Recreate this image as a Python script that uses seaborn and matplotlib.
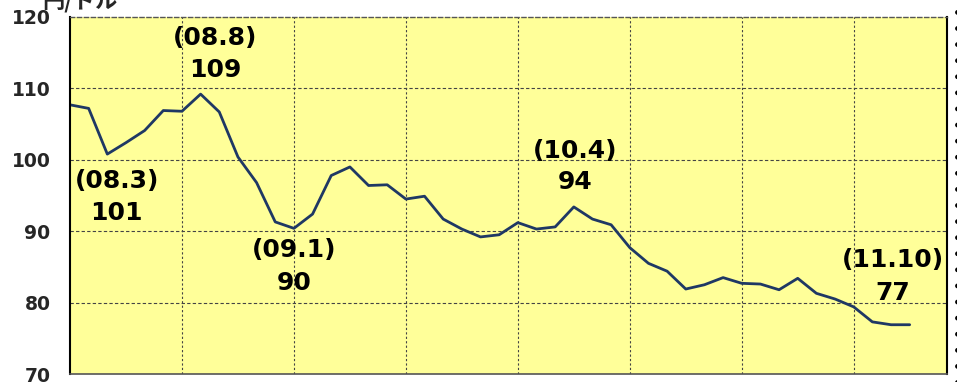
import matplotlib
matplotlib.use("Agg")
import matplotlib.pyplot as plt
import seaborn as sns
import pandas as pd
from matplotlib.lines import Line2D

# Monthly yen/dollar rate, 2008.1 - 2011.10
months = [f"{y:02d}.{m}" for y in range(8, 12) for m in range(1, 13)][:46]
rates = [107.7, 107.2, 100.8, 102.4, 104.1, 106.9, 106.8, 109.2, 106.7, 100.4,
         96.8, 91.3, 90.4, 92.4, 97.8, 99.0, 96.4, 96.5, 94.5, 94.9,
         91.7, 90.3, 89.2, 89.5, 91.2, 90.3, 90.6, 93.4, 91.7, 90.9,
         87.7, 85.5, 84.4, 81.9, 82.5, 83.5, 82.7, 82.6, 81.8, 83.4,
         81.3, 80.5, 79.4, 77.3, 76.9, 76.9]
y_ticks = [70, 80, 90, 100, 110, 120]
unit_label = "円/ドル"

# Annotations: (period label, value label, x position, y of period, y of value)
ann_period = ["(08.3)", "(08.8)", "(09.1)", "(10.4)", "(11.10)"]
ann_value = ["101", "109", "90", "94", "77"]
ann_x = [2.5, 7.8, 12.0, 27.05, 44.1]
ann_y1 = [97.1, 117.1, 87.3, 101.3, 85.9]
ann_y2 = [92.6, 112.6, 82.7, 96.9, 81.4]

df = pd.DataFrame({"idx": range(len(rates)), "month": months, "rate": rates})

sns.set_theme(style="white")
plt.rcParams["font.family"] = ["DejaVu Sans", "Noto Sans CJK JP"]

fig = plt.figure(figsize=(9.57, 3.82), dpi=100)
ax = fig.add_axes([70 / 957, 8 / 382, 877 / 957, 357 / 382])
ax.set_facecolor("#FFFF99")

sns.lineplot(data=df, x="idx", y="rate", ax=ax, color="#1F3864", linewidth=2.0)

ax.set_xlim(0, 47)
ax.set_ylim(70, 120)
ax.set_yticks(y_ticks)
ax.set_yticklabels([str(t) for t in y_ticks], fontsize=13.5, fontweight="bold")
ax.set_xticks([])
ax.set_xlabel("")
ax.set_ylabel("")
ax.tick_params(axis="y", length=0, pad=14)

for v in [80, 90, 100, 110]:
    ax.axhline(v, color="#444444", linestyle=(0, (3, 2)), linewidth=0.8, zorder=1)
for g in range(6, 47, 6):
    ax.axvline(g, color="#444444", linestyle=(0, (2, 2)), linewidth=0.8, zorder=1)

for side in ["left", "right"]:
    ax.spines[side].set_color("black")
    ax.spines[side].set_linewidth(1.5)
ax.spines["top"].set_color("#555555")
ax.spines["top"].set_linestyle((0, (3, 2)))
ax.spines["top"].set_linewidth(1.0)
ax.spines["bottom"].set_color("#555555")
ax.spines["bottom"].set_linewidth(1.2)

for p, v, x, y1, y2 in zip(ann_period, ann_value, ann_x, ann_y1, ann_y2):
    ax.text(x, y1, p, ha="center", va="center", fontsize=18, fontweight="bold", color="black")
    ax.text(x, y2, v, ha="center", va="center", fontsize=18, fontweight="bold", color="black")

fig.text(42 / 957, 1 - 8 / 382, unit_label, ha="left", va="baseline", fontsize=16,
         fontweight="bold", family=["Noto Sans CJK JP", "DejaVu Sans"])

# dotted border fragment at the far right
fig.add_artist(Line2D([956.5 / 957, 956.5 / 957], [0, 1], transform=fig.transFigure,
                      color="black", linewidth=3.5, linestyle=(0, (0.01, 3.3)),
                      dash_capstyle="round"))

fig.savefig("out.png", dpi=100)
